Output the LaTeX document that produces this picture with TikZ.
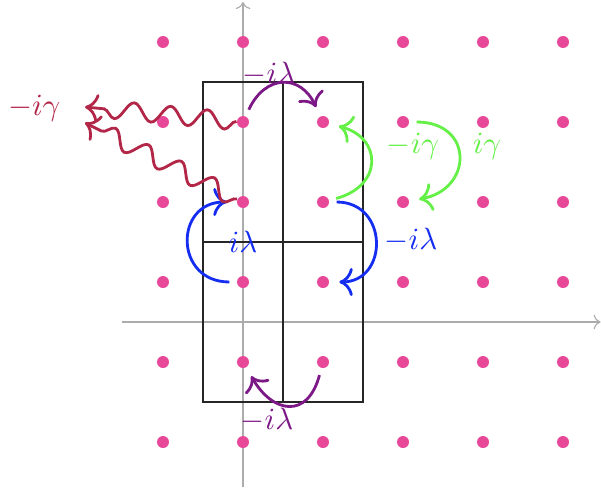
\documentclass[tikz,border=0pt]{standalone}
\usepackage{amsmath,amssymb}
\usepackage{xcolor}
\usepackage{tikz}
\usetikzlibrary{calc, arrows.meta, decorations.pathmorphing}
\definecolor{dotpink}{RGB}{232,72,152}
\definecolor{hopviolet}{RGB}{125,25,135}
\definecolor{hopblue}{RGB}{20,45,240}
\definecolor{hopgreen}{RGB}{100,240,70}
\definecolor{lossred}{RGB}{178,38,72}

\begin{document}
\begin{tikzpicture}[
  every node/.style={font=\fontsize{11.2}{13}\selectfont},
  site/.style={circle, fill=dotpink, inner sep=0pt, minimum size=0.15cm},
  axis/.style={->, gray!65, thin},
  cell/.style={black!85, thin},
  hop/.style={-{To[scale=1.25]}, line width=1pt, shorten <=2.5pt, shorten >=3.5pt},
  loss/.style={-{To[scale=1.25]}, line width=1pt, lossred, decorate,
    decoration={snake, amplitude=1.1mm, segment length=4.6mm, post length=1.5mm}}
]
\useasboundingbox (-3.0375,-2.0625) rectangle (4.475,4.025);
\coordinate (xl) at (-1.5125,0);
\coordinate (xr) at (4.47,0);
\coordinate (yb) at (0,-2.0625);
\coordinate (yt) at (0,4.0);
\draw[axis] (xl) -- (xr);
\draw[axis] (yb) -- (yt);
\draw[cell] (-0.5,-1) rectangle (1.5,3);
\draw[cell] (0.5,-1) -- (0.5,3);
\draw[cell] (-0.5,1) -- (1.5,1);
\foreach \i in {0,...,5}
  \foreach \j in {0,...,5}
    \node[site] (p\i\j) at (\i-1,\j-1.5) {};
\draw[hop, hopviolet] (p14) to[out=65,in=115,looseness=1.6] (p24);
\node[text=hopviolet] (lt) at (0.325,3.1) {$-i\lambda$};
\draw[hop, hopviolet] (p21) to[out=-105,in=-60,looseness=1.8] (p11);
\node[text=hopviolet] (lb) at (0.3,-1.225) {$-i\lambda$};
\draw[hop, hopblue] (p12) to[out=180,in=180,looseness=2.0] (p13);
\node[text=hopblue] (ll) at (0,1) {$i\lambda$};
\draw[hop, hopblue] (p23) to[out=0,in=0,looseness=1.9] (p22);
\node[text=hopblue] (lr) at (2.1,1.025) {$-i\lambda$};
\draw[hop, hopgreen] (p23) to[out=15,in=-15,looseness=1.85] (p24);
\node[text=hopgreen] (gi) at (2.125,2.19) {$-i\gamma$};
\draw[hop, hopgreen] (p34) to[out=0,in=10,looseness=2.1] (p33);
\node[text=hopgreen] (go) at (3.05,2.19) {$i\gamma$};
\coordinate (g1) at (-1.975,2.6875);
\coordinate (g2) at (-1.975,2.49);
\draw[loss] (p14) -- (g1);
\draw[loss] (p13) -- (g2);
\node[text=lossred] (lg) at (-2.61,2.675) {$-i\gamma$};
\end{tikzpicture}
\end{document}
